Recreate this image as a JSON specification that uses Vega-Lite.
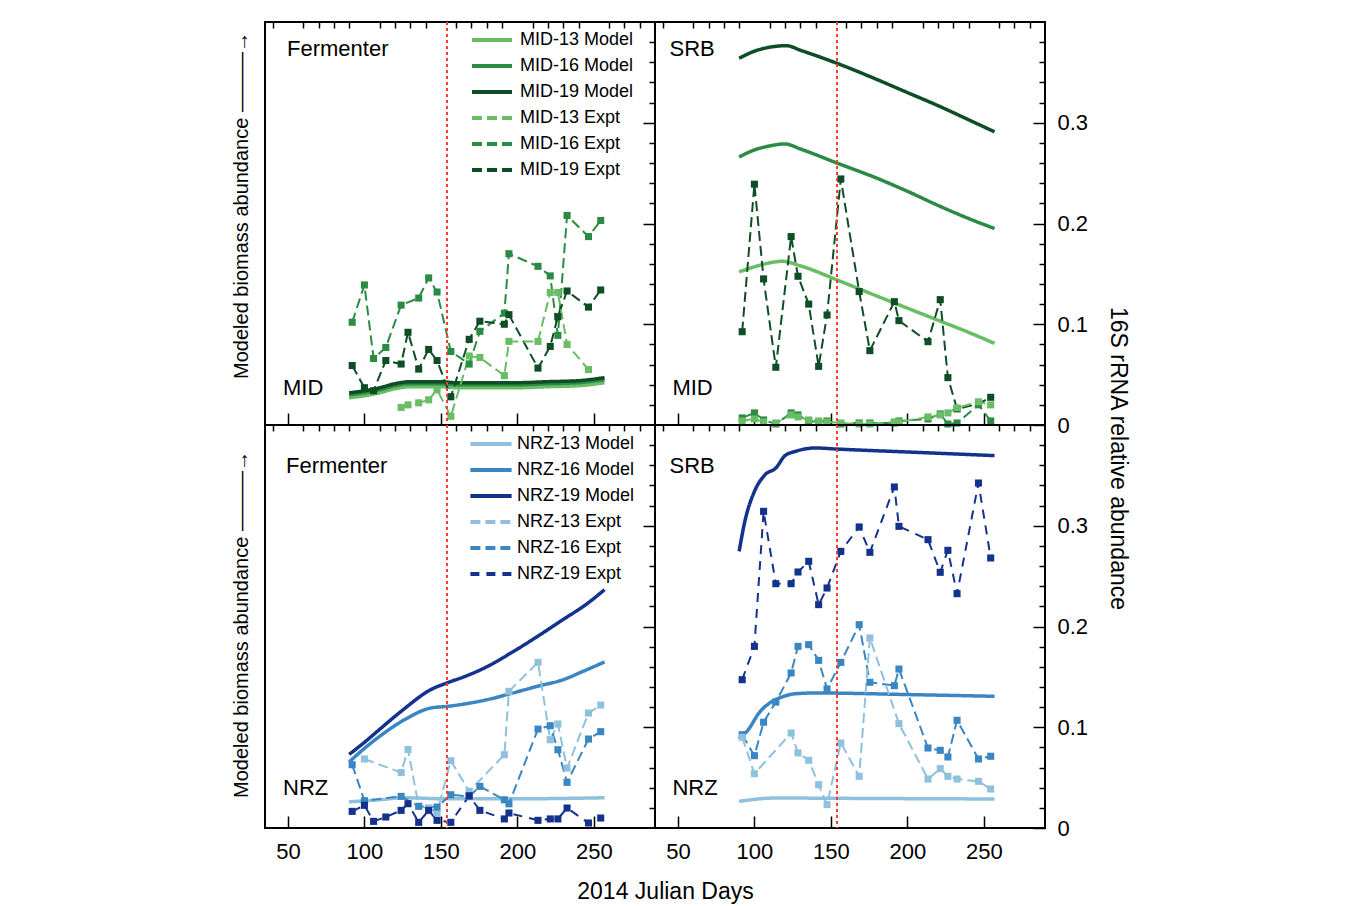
{
"$schema": "https://vega.github.io/schema/vega-lite/v6.json",
"padding": {"left": 230, "top": 20, "right": 5, "bottom": 0},
"config": {
  "font": "Liberation Sans",
  "view": {"stroke": "black", "strokeWidth": 2},
  "axis": {"domain": false, "grid": false, "tickColor": "black", "tickWidth": 1.5, "labelFont": "Liberation Sans", "labelFontSize": 22, "labelColor": "black", "titleFont": "Liberation Sans", "titleFontWeight": "normal", "titleColor": "black"},
  "legend": {"labelFont": "Liberation Sans", "labelColor": "black"}
},
"datasets": {
  "vline": [{"x": 154}],
  "ann": [
    {"p":"MF","t":"Fermenter","x":49.4,"y":0.3735},
    {"p":"MF","t":"MID","x":46.8,"y":0.037},
    {"p":"MS","t":"SRB","x":44.5,"y":0.3735},
    {"p":"MS","t":"MID","x":46.4,"y":0.037},
    {"p":"NF","t":"Fermenter","x":48.7,"y":0.3596},
    {"p":"NF","t":"NRZ","x":46.8,"y":0.040},
    {"p":"NS","t":"SRB","x":44.5,"y":0.3596},
    {"p":"NS","t":"NRZ","x":46.4,"y":0.040}
  ],
  "pts": [
    {"p":"MF","s":"MID-13 Model","x":90,"y":0.027},{"p":"MF","s":"MID-13 Model","x":100,"y":0.029},{"p":"MF","s":"MID-13 Model","x":110,"y":0.032},{"p":"MF","s":"MID-13 Model","x":120,"y":0.036},{"p":"MF","s":"MID-13 Model","x":130,"y":0.038},{"p":"MF","s":"MID-13 Model","x":140,"y":0.038},{"p":"MF","s":"MID-13 Model","x":150,"y":0.038},{"p":"MF","s":"MID-13 Model","x":160,"y":0.037},{"p":"MF","s":"MID-13 Model","x":180,"y":0.037},{"p":"MF","s":"MID-13 Model","x":200,"y":0.037},{"p":"MF","s":"MID-13 Model","x":220,"y":0.038},{"p":"MF","s":"MID-13 Model","x":240,"y":0.039},{"p":"MF","s":"MID-13 Model","x":257,"y":0.042},
    {"p":"MF","s":"MID-16 Model","x":90,"y":0.030},{"p":"MF","s":"MID-16 Model","x":100,"y":0.032},{"p":"MF","s":"MID-16 Model","x":110,"y":0.035},{"p":"MF","s":"MID-16 Model","x":120,"y":0.039},{"p":"MF","s":"MID-16 Model","x":130,"y":0.041},{"p":"MF","s":"MID-16 Model","x":140,"y":0.041},{"p":"MF","s":"MID-16 Model","x":150,"y":0.041},{"p":"MF","s":"MID-16 Model","x":160,"y":0.040},{"p":"MF","s":"MID-16 Model","x":180,"y":0.040},{"p":"MF","s":"MID-16 Model","x":200,"y":0.040},{"p":"MF","s":"MID-16 Model","x":220,"y":0.041},{"p":"MF","s":"MID-16 Model","x":240,"y":0.042},{"p":"MF","s":"MID-16 Model","x":257,"y":0.045},
    {"p":"MF","s":"MID-19 Model","x":90,"y":0.032},{"p":"MF","s":"MID-19 Model","x":100,"y":0.034},{"p":"MF","s":"MID-19 Model","x":110,"y":0.037},{"p":"MF","s":"MID-19 Model","x":120,"y":0.041},{"p":"MF","s":"MID-19 Model","x":130,"y":0.043},{"p":"MF","s":"MID-19 Model","x":140,"y":0.043},{"p":"MF","s":"MID-19 Model","x":150,"y":0.043},{"p":"MF","s":"MID-19 Model","x":160,"y":0.042},{"p":"MF","s":"MID-19 Model","x":180,"y":0.042},{"p":"MF","s":"MID-19 Model","x":200,"y":0.042},{"p":"MF","s":"MID-19 Model","x":220,"y":0.043},{"p":"MF","s":"MID-19 Model","x":240,"y":0.044},{"p":"MF","s":"MID-19 Model","x":257,"y":0.047},
    {"p":"MF","s":"MID-16 Expt","x":92,"y":0.102},{"p":"MF","s":"MID-16 Expt","x":100,"y":0.139},{"p":"MF","s":"MID-16 Expt","x":106,"y":0.066},{"p":"MF","s":"MID-16 Expt","x":114,"y":0.077},{"p":"MF","s":"MID-16 Expt","x":124,"y":0.119},{"p":"MF","s":"MID-16 Expt","x":135.5,"y":0.126},{"p":"MF","s":"MID-16 Expt","x":142,"y":0.146},{"p":"MF","s":"MID-16 Expt","x":147.5,"y":0.132},{"p":"MF","s":"MID-16 Expt","x":156.5,"y":0.073},{"p":"MF","s":"MID-16 Expt","x":168.5,"y":0.0605},{"p":"MF","s":"MID-16 Expt","x":175.5,"y":0.093},{"p":"MF","s":"MID-16 Expt","x":191.5,"y":0.111},{"p":"MF","s":"MID-16 Expt","x":194.5,"y":0.170},{"p":"MF","s":"MID-16 Expt","x":213.5,"y":0.1575},{"p":"MF","s":"MID-16 Expt","x":221.5,"y":0.148},{"p":"MF","s":"MID-16 Expt","x":226.5,"y":0.089},{"p":"MF","s":"MID-16 Expt","x":232.5,"y":0.208},{"p":"MF","s":"MID-16 Expt","x":246.5,"y":0.187},{"p":"MF","s":"MID-16 Expt","x":254.5,"y":0.203},
    {"p":"MF","s":"MID-19 Expt","x":92,"y":0.059},{"p":"MF","s":"MID-19 Expt","x":100,"y":0.037},{"p":"MF","s":"MID-19 Expt","x":106,"y":0.034},{"p":"MF","s":"MID-19 Expt","x":114,"y":0.064},{"p":"MF","s":"MID-19 Expt","x":124,"y":0.0605},{"p":"MF","s":"MID-19 Expt","x":128.5,"y":0.092},{"p":"MF","s":"MID-19 Expt","x":135.5,"y":0.0555},{"p":"MF","s":"MID-19 Expt","x":142,"y":0.075},{"p":"MF","s":"MID-19 Expt","x":147.5,"y":0.064},{"p":"MF","s":"MID-19 Expt","x":156.5,"y":0.028},{"p":"MF","s":"MID-19 Expt","x":168.5,"y":0.085},{"p":"MF","s":"MID-19 Expt","x":175.5,"y":0.103},{"p":"MF","s":"MID-19 Expt","x":191.5,"y":0.100},{"p":"MF","s":"MID-19 Expt","x":194.5,"y":0.1095},{"p":"MF","s":"MID-19 Expt","x":213.5,"y":0.0565},{"p":"MF","s":"MID-19 Expt","x":221.5,"y":0.078},{"p":"MF","s":"MID-19 Expt","x":226.5,"y":0.1075},{"p":"MF","s":"MID-19 Expt","x":232.5,"y":0.133},{"p":"MF","s":"MID-19 Expt","x":246.5,"y":0.117},{"p":"MF","s":"MID-19 Expt","x":254.5,"y":0.134},
    {"p":"MF","s":"MID-13 Expt","x":124,"y":0.0175},{"p":"MF","s":"MID-13 Expt","x":128.5,"y":0.020},{"p":"MF","s":"MID-13 Expt","x":135.5,"y":0.022},{"p":"MF","s":"MID-13 Expt","x":142,"y":0.025},{"p":"MF","s":"MID-13 Expt","x":147.5,"y":0.035},{"p":"MF","s":"MID-13 Expt","x":156.5,"y":0.0086},{"p":"MF","s":"MID-13 Expt","x":168.5,"y":0.0685},{"p":"MF","s":"MID-13 Expt","x":175.5,"y":0.067},{"p":"MF","s":"MID-13 Expt","x":191.5,"y":0.049},{"p":"MF","s":"MID-13 Expt","x":194.5,"y":0.083},{"p":"MF","s":"MID-13 Expt","x":213.5,"y":0.083},{"p":"MF","s":"MID-13 Expt","x":221.5,"y":0.1316},{"p":"MF","s":"MID-13 Expt","x":226.5,"y":0.1316},{"p":"MF","s":"MID-13 Expt","x":232.5,"y":0.080},{"p":"MF","s":"MID-13 Expt","x":246.5,"y":0.055},

    {"p":"MS","s":"MID-19 Model","x":90,"y":0.364},{"p":"MS","s":"MID-19 Model","x":100,"y":0.371},{"p":"MS","s":"MID-19 Model","x":110,"y":0.375},{"p":"MS","s":"MID-19 Model","x":121,"y":0.3765},{"p":"MS","s":"MID-19 Model","x":130,"y":0.372},{"p":"MS","s":"MID-19 Model","x":154,"y":0.359},{"p":"MS","s":"MID-19 Model","x":180,"y":0.343},{"p":"MS","s":"MID-19 Model","x":200,"y":0.330},{"p":"MS","s":"MID-19 Model","x":220,"y":0.317},{"p":"MS","s":"MID-19 Model","x":240,"y":0.303},{"p":"MS","s":"MID-19 Model","x":257,"y":0.291},
    {"p":"MS","s":"MID-16 Model","x":90,"y":0.266},{"p":"MS","s":"MID-16 Model","x":100,"y":0.273},{"p":"MS","s":"MID-16 Model","x":110,"y":0.277},{"p":"MS","s":"MID-16 Model","x":120,"y":0.279},{"p":"MS","s":"MID-16 Model","x":130,"y":0.274},{"p":"MS","s":"MID-16 Model","x":154,"y":0.260},{"p":"MS","s":"MID-16 Model","x":180,"y":0.245},{"p":"MS","s":"MID-16 Model","x":200,"y":0.232},{"p":"MS","s":"MID-16 Model","x":220,"y":0.218},{"p":"MS","s":"MID-16 Model","x":240,"y":0.205},{"p":"MS","s":"MID-16 Model","x":257,"y":0.195},
    {"p":"MS","s":"MID-13 Model","x":90,"y":0.152},{"p":"MS","s":"MID-13 Model","x":100,"y":0.157},{"p":"MS","s":"MID-13 Model","x":110,"y":0.161},{"p":"MS","s":"MID-13 Model","x":118,"y":0.1625},{"p":"MS","s":"MID-13 Model","x":130,"y":0.158},{"p":"MS","s":"MID-13 Model","x":154,"y":0.144},{"p":"MS","s":"MID-13 Model","x":180,"y":0.128},{"p":"MS","s":"MID-13 Model","x":200,"y":0.116},{"p":"MS","s":"MID-13 Model","x":220,"y":0.104},{"p":"MS","s":"MID-13 Model","x":240,"y":0.092},{"p":"MS","s":"MID-13 Model","x":257,"y":0.081},
    {"p":"MS","s":"MID-19 Expt","x":92,"y":0.0926},{"p":"MS","s":"MID-19 Expt","x":100,"y":0.239},{"p":"MS","s":"MID-19 Expt","x":106,"y":0.145},{"p":"MS","s":"MID-19 Expt","x":114,"y":0.0573},{"p":"MS","s":"MID-19 Expt","x":124,"y":0.187},{"p":"MS","s":"MID-19 Expt","x":128.5,"y":0.1476},{"p":"MS","s":"MID-19 Expt","x":135.5,"y":0.120},{"p":"MS","s":"MID-19 Expt","x":142,"y":0.0582},{"p":"MS","s":"MID-19 Expt","x":147.5,"y":0.1092},{"p":"MS","s":"MID-19 Expt","x":156.5,"y":0.2442},{"p":"MS","s":"MID-19 Expt","x":168.5,"y":0.1324},{"p":"MS","s":"MID-19 Expt","x":175.5,"y":0.0738},{"p":"MS","s":"MID-19 Expt","x":191.5,"y":0.1224},{"p":"MS","s":"MID-19 Expt","x":194.5,"y":0.1036},{"p":"MS","s":"MID-19 Expt","x":213.5,"y":0.0827},{"p":"MS","s":"MID-19 Expt","x":221.5,"y":0.1244},{"p":"MS","s":"MID-19 Expt","x":226.5,"y":0.047},{"p":"MS","s":"MID-19 Expt","x":232.5,"y":0.016},{"p":"MS","s":"MID-19 Expt","x":246.5,"y":0.021},{"p":"MS","s":"MID-19 Expt","x":254.5,"y":0.0275},
    {"p":"MS","s":"MID-16 Expt","x":92,"y":0.007},{"p":"MS","s":"MID-16 Expt","x":100,"y":0.012},{"p":"MS","s":"MID-16 Expt","x":106,"y":0.005},{"p":"MS","s":"MID-16 Expt","x":114,"y":0.001},{"p":"MS","s":"MID-16 Expt","x":124,"y":0.012},{"p":"MS","s":"MID-16 Expt","x":128.5,"y":0.010},{"p":"MS","s":"MID-16 Expt","x":135.5,"y":0.004},{"p":"MS","s":"MID-16 Expt","x":142,"y":0.003},{"p":"MS","s":"MID-16 Expt","x":147.5,"y":0.004},{"p":"MS","s":"MID-16 Expt","x":156.5,"y":0.001},{"p":"MS","s":"MID-16 Expt","x":168.5,"y":0.002},{"p":"MS","s":"MID-16 Expt","x":175.5,"y":0.002},{"p":"MS","s":"MID-16 Expt","x":191.5,"y":0.002},{"p":"MS","s":"MID-16 Expt","x":194.5,"y":0.004},{"p":"MS","s":"MID-16 Expt","x":213.5,"y":0.006},{"p":"MS","s":"MID-16 Expt","x":221.5,"y":0.011},{"p":"MS","s":"MID-16 Expt","x":226.5,"y":0.001},{"p":"MS","s":"MID-16 Expt","x":232.5,"y":0.002},{"p":"MS","s":"MID-16 Expt","x":246.5,"y":0.020},{"p":"MS","s":"MID-16 Expt","x":254.5,"y":0.004},
    {"p":"MS","s":"MID-13 Expt","x":92,"y":0.004},{"p":"MS","s":"MID-13 Expt","x":100,"y":0.006},{"p":"MS","s":"MID-13 Expt","x":106,"y":0.003},{"p":"MS","s":"MID-13 Expt","x":114,"y":0.002},{"p":"MS","s":"MID-13 Expt","x":124,"y":0.010},{"p":"MS","s":"MID-13 Expt","x":128.5,"y":0.008},{"p":"MS","s":"MID-13 Expt","x":135.5,"y":0.005},{"p":"MS","s":"MID-13 Expt","x":142,"y":0.004},{"p":"MS","s":"MID-13 Expt","x":147.5,"y":0.003},{"p":"MS","s":"MID-13 Expt","x":156.5,"y":0.002},{"p":"MS","s":"MID-13 Expt","x":168.5,"y":0.001},{"p":"MS","s":"MID-13 Expt","x":175.5,"y":0.001},{"p":"MS","s":"MID-13 Expt","x":191.5,"y":0.003},{"p":"MS","s":"MID-13 Expt","x":194.5,"y":0.003},{"p":"MS","s":"MID-13 Expt","x":213.5,"y":0.008},{"p":"MS","s":"MID-13 Expt","x":221.5,"y":0.010},{"p":"MS","s":"MID-13 Expt","x":226.5,"y":0.012},{"p":"MS","s":"MID-13 Expt","x":232.5,"y":0.017},{"p":"MS","s":"MID-13 Expt","x":246.5,"y":0.023},{"p":"MS","s":"MID-13 Expt","x":254.5,"y":0.020},

    {"p":"NF","s":"NRZ-19 Model","x":90,"y":0.073},{"p":"NF","s":"NRZ-19 Model","x":100,"y":0.085},{"p":"NF","s":"NRZ-19 Model","x":110,"y":0.098},{"p":"NF","s":"NRZ-19 Model","x":125,"y":0.117},{"p":"NF","s":"NRZ-19 Model","x":143,"y":0.137},{"p":"NF","s":"NRZ-19 Model","x":154,"y":0.144},{"p":"NF","s":"NRZ-19 Model","x":165,"y":0.150},{"p":"NF","s":"NRZ-19 Model","x":180,"y":0.160},{"p":"NF","s":"NRZ-19 Model","x":195,"y":0.173},{"p":"NF","s":"NRZ-19 Model","x":213,"y":0.190},{"p":"NF","s":"NRZ-19 Model","x":230,"y":0.207},{"p":"NF","s":"NRZ-19 Model","x":245,"y":0.222},{"p":"NF","s":"NRZ-19 Model","x":257,"y":0.2365},
    {"p":"NF","s":"NRZ-16 Model","x":90,"y":0.0655},{"p":"NF","s":"NRZ-16 Model","x":100,"y":0.079},{"p":"NF","s":"NRZ-16 Model","x":110,"y":0.091},{"p":"NF","s":"NRZ-16 Model","x":128,"y":0.109},{"p":"NF","s":"NRZ-16 Model","x":143,"y":0.119},{"p":"NF","s":"NRZ-16 Model","x":154,"y":0.1207},{"p":"NF","s":"NRZ-16 Model","x":165,"y":0.123},{"p":"NF","s":"NRZ-16 Model","x":180,"y":0.1273},{"p":"NF","s":"NRZ-16 Model","x":193,"y":0.1323},{"p":"NF","s":"NRZ-16 Model","x":213,"y":0.1406},{"p":"NF","s":"NRZ-16 Model","x":230,"y":0.1472},{"p":"NF","s":"NRZ-16 Model","x":243,"y":0.1555},{"p":"NF","s":"NRZ-16 Model","x":257,"y":0.1648},
    {"p":"NF","s":"NRZ-13 Model","x":90,"y":0.026},{"p":"NF","s":"NRZ-13 Model","x":110,"y":0.028},{"p":"NF","s":"NRZ-13 Model","x":125,"y":0.030},{"p":"NF","s":"NRZ-13 Model","x":154,"y":0.029},{"p":"NF","s":"NRZ-13 Model","x":200,"y":0.029},{"p":"NF","s":"NRZ-13 Model","x":257,"y":0.030},
    {"p":"NF","s":"NRZ-13 Expt","x":100,"y":0.0685},{"p":"NF","s":"NRZ-13 Expt","x":124,"y":0.055},{"p":"NF","s":"NRZ-13 Expt","x":128.5,"y":0.078},{"p":"NF","s":"NRZ-13 Expt","x":135.5,"y":0.0215},{"p":"NF","s":"NRZ-13 Expt","x":142,"y":0.020},{"p":"NF","s":"NRZ-13 Expt","x":147.5,"y":0.015},{"p":"NF","s":"NRZ-13 Expt","x":156.5,"y":0.0668},{"p":"NF","s":"NRZ-13 Expt","x":168.5,"y":0.0364},{"p":"NF","s":"NRZ-13 Expt","x":191.5,"y":0.0727},{"p":"NF","s":"NRZ-13 Expt","x":194.5,"y":0.1356},{"p":"NF","s":"NRZ-13 Expt","x":213.5,"y":0.1644},{"p":"NF","s":"NRZ-13 Expt","x":221.5,"y":0.0876},{"p":"NF","s":"NRZ-13 Expt","x":226.5,"y":0.1032},{"p":"NF","s":"NRZ-13 Expt","x":232.5,"y":0.0595},{"p":"NF","s":"NRZ-13 Expt","x":246.5,"y":0.1141},{"p":"NF","s":"NRZ-13 Expt","x":254.5,"y":0.122},
    {"p":"NF","s":"NRZ-16 Expt","x":92,"y":0.0628},{"p":"NF","s":"NRZ-16 Expt","x":100,"y":0.0271},{"p":"NF","s":"NRZ-16 Expt","x":124,"y":0.0314},{"p":"NF","s":"NRZ-16 Expt","x":135.5,"y":0.0215},{"p":"NF","s":"NRZ-16 Expt","x":147.5,"y":0.0208},{"p":"NF","s":"NRZ-16 Expt","x":156.5,"y":0.033},{"p":"NF","s":"NRZ-16 Expt","x":168.5,"y":0.0314},{"p":"NF","s":"NRZ-16 Expt","x":175.5,"y":0.0413},{"p":"NF","s":"NRZ-16 Expt","x":191.5,"y":0.028},{"p":"NF","s":"NRZ-16 Expt","x":194.5,"y":0.024},{"p":"NF","s":"NRZ-16 Expt","x":213.5,"y":0.0982},{"p":"NF","s":"NRZ-16 Expt","x":221.5,"y":0.1015},{"p":"NF","s":"NRZ-16 Expt","x":226.5,"y":0.0777},{"p":"NF","s":"NRZ-16 Expt","x":232.5,"y":0.0453},{"p":"NF","s":"NRZ-16 Expt","x":246.5,"y":0.0883},{"p":"NF","s":"NRZ-16 Expt","x":254.5,"y":0.0956},
    {"p":"NF","s":"NRZ-19 Expt","x":92,"y":0.0165},{"p":"NF","s":"NRZ-19 Expt","x":100,"y":0.0225},{"p":"NF","s":"NRZ-19 Expt","x":106,"y":0.0066},{"p":"NF","s":"NRZ-19 Expt","x":114,"y":0.0109},{"p":"NF","s":"NRZ-19 Expt","x":124,"y":0.0175},{"p":"NF","s":"NRZ-19 Expt","x":128.5,"y":0.0241},{"p":"NF","s":"NRZ-19 Expt","x":135.5,"y":0.0056},{"p":"NF","s":"NRZ-19 Expt","x":142,"y":0.0175},{"p":"NF","s":"NRZ-19 Expt","x":147.5,"y":0.0076},{"p":"NF","s":"NRZ-19 Expt","x":156.5,"y":0.0056},{"p":"NF","s":"NRZ-19 Expt","x":168.5,"y":0.032},{"p":"NF","s":"NRZ-19 Expt","x":175.5,"y":0.0175},{"p":"NF","s":"NRZ-19 Expt","x":191.5,"y":0.009},{"p":"NF","s":"NRZ-19 Expt","x":194.5,"y":0.0149},{"p":"NF","s":"NRZ-19 Expt","x":213.5,"y":0.0076},{"p":"NF","s":"NRZ-19 Expt","x":221.5,"y":0.009},{"p":"NF","s":"NRZ-19 Expt","x":226.5,"y":0.009},{"p":"NF","s":"NRZ-19 Expt","x":232.5,"y":0.0198},{"p":"NF","s":"NRZ-19 Expt","x":246.5,"y":0.005},{"p":"NF","s":"NRZ-19 Expt","x":254.5,"y":0.0099},

    {"p":"NS","s":"NRZ-19 Model","x":90,"y":0.2746},{"p":"NS","s":"NRZ-19 Model","x":94,"y":0.306},{"p":"NS","s":"NRZ-19 Model","x":100,"y":0.334},{"p":"NS","s":"NRZ-19 Model","x":107,"y":0.3507},{"p":"NS","s":"NRZ-19 Model","x":114,"y":0.3573},{"p":"NS","s":"NRZ-19 Model","x":120,"y":0.3696},{"p":"NS","s":"NRZ-19 Model","x":127,"y":0.3739},{"p":"NS","s":"NRZ-19 Model","x":140,"y":0.3772},{"p":"NS","s":"NRZ-19 Model","x":153,"y":0.3762},{"p":"NS","s":"NRZ-19 Model","x":205,"y":0.3729},{"p":"NS","s":"NRZ-19 Model","x":257,"y":0.3696},
    {"p":"NS","s":"NRZ-16 Model","x":90,"y":0.0883},{"p":"NS","s":"NRZ-16 Model","x":96,"y":0.0976},{"p":"NS","s":"NRZ-16 Model","x":103,"y":0.1142},{"p":"NS","s":"NRZ-16 Model","x":110,"y":0.1241},{"p":"NS","s":"NRZ-16 Model","x":118,"y":0.130},{"p":"NS","s":"NRZ-16 Model","x":127,"y":0.1333},{"p":"NS","s":"NRZ-16 Model","x":140,"y":0.134},{"p":"NS","s":"NRZ-16 Model","x":205,"y":0.1323},{"p":"NS","s":"NRZ-16 Model","x":257,"y":0.1307},
    {"p":"NS","s":"NRZ-13 Model","x":90,"y":0.0265},{"p":"NS","s":"NRZ-13 Model","x":114,"y":0.0298},{"p":"NS","s":"NRZ-13 Model","x":150,"y":0.0295},{"p":"NS","s":"NRZ-13 Model","x":257,"y":0.0288},
    {"p":"NS","s":"NRZ-19 Expt","x":92,"y":0.1472},{"p":"NS","s":"NRZ-19 Expt","x":100,"y":0.1803},{"p":"NS","s":"NRZ-19 Expt","x":106,"y":0.3143},{"p":"NS","s":"NRZ-19 Expt","x":114,"y":0.2425},{"p":"NS","s":"NRZ-19 Expt","x":124,"y":0.2425},{"p":"NS","s":"NRZ-19 Expt","x":128.5,"y":0.2541},{"p":"NS","s":"NRZ-19 Expt","x":135.5,"y":0.2647},{"p":"NS","s":"NRZ-19 Expt","x":142,"y":0.2217},{"p":"NS","s":"NRZ-19 Expt","x":147.5,"y":0.2382},{"p":"NS","s":"NRZ-19 Expt","x":156.5,"y":0.2746},{"p":"NS","s":"NRZ-19 Expt","x":168.5,"y":0.2988},{"p":"NS","s":"NRZ-19 Expt","x":175.5,"y":0.2736},{"p":"NS","s":"NRZ-19 Expt","x":191.5,"y":0.3385},{"p":"NS","s":"NRZ-19 Expt","x":194.5,"y":0.2994},{"p":"NS","s":"NRZ-19 Expt","x":213.5,"y":0.2862},{"p":"NS","s":"NRZ-19 Expt","x":221.5,"y":0.2538},{"p":"NS","s":"NRZ-19 Expt","x":226.5,"y":0.2756},{"p":"NS","s":"NRZ-19 Expt","x":232.5,"y":0.2326},{"p":"NS","s":"NRZ-19 Expt","x":246.5,"y":0.3424},{"p":"NS","s":"NRZ-19 Expt","x":254.5,"y":0.268},
    {"p":"NS","s":"NRZ-16 Expt","x":92,"y":0.0926},{"p":"NS","s":"NRZ-16 Expt","x":100,"y":0.0718},{"p":"NS","s":"NRZ-16 Expt","x":106,"y":0.105},{"p":"NS","s":"NRZ-16 Expt","x":114,"y":0.125},{"p":"NS","s":"NRZ-16 Expt","x":124,"y":0.1539},{"p":"NS","s":"NRZ-16 Expt","x":128.5,"y":0.1803},{"p":"NS","s":"NRZ-16 Expt","x":135.5,"y":0.182},{"p":"NS","s":"NRZ-16 Expt","x":142,"y":0.1664},{"p":"NS","s":"NRZ-16 Expt","x":147.5,"y":0.138},{"p":"NS","s":"NRZ-16 Expt","x":156.5,"y":0.1644},{"p":"NS","s":"NRZ-16 Expt","x":168.5,"y":0.2018},{"p":"NS","s":"NRZ-16 Expt","x":175.5,"y":0.1446},{"p":"NS","s":"NRZ-16 Expt","x":191.5,"y":0.1413},{"p":"NS","s":"NRZ-16 Expt","x":194.5,"y":0.1578},{"p":"NS","s":"NRZ-16 Expt","x":213.5,"y":0.0794},{"p":"NS","s":"NRZ-16 Expt","x":221.5,"y":0.0771},{"p":"NS","s":"NRZ-16 Expt","x":226.5,"y":0.0705},{"p":"NS","s":"NRZ-16 Expt","x":232.5,"y":0.1069},{"p":"NS","s":"NRZ-16 Expt","x":246.5,"y":0.0685},{"p":"NS","s":"NRZ-16 Expt","x":254.5,"y":0.0712},
    {"p":"NS","s":"NRZ-13 Expt","x":92,"y":0.090},{"p":"NS","s":"NRZ-13 Expt","x":100,"y":0.0539},{"p":"NS","s":"NRZ-13 Expt","x":124,"y":0.0943},{"p":"NS","s":"NRZ-13 Expt","x":128.5,"y":0.0745},{"p":"NS","s":"NRZ-13 Expt","x":135.5,"y":0.0672},{"p":"NS","s":"NRZ-13 Expt","x":142,"y":0.043},{"p":"NS","s":"NRZ-13 Expt","x":147.5,"y":0.0232},{"p":"NS","s":"NRZ-13 Expt","x":156.5,"y":0.0844},{"p":"NS","s":"NRZ-13 Expt","x":168.5,"y":0.0513},{"p":"NS","s":"NRZ-13 Expt","x":175.5,"y":0.1886},{"p":"NS","s":"NRZ-13 Expt","x":194.5,"y":0.1036},{"p":"NS","s":"NRZ-13 Expt","x":213.5,"y":0.0486},{"p":"NS","s":"NRZ-13 Expt","x":221.5,"y":0.0589},{"p":"NS","s":"NRZ-13 Expt","x":226.5,"y":0.0513},{"p":"NS","s":"NRZ-13 Expt","x":232.5,"y":0.0486},{"p":"NS","s":"NRZ-13 Expt","x":246.5,"y":0.0463},{"p":"NS","s":"NRZ-13 Expt","x":254.5,"y":0.0387}
  ]
},
"bounds": "flush",
"spacing": 0,
"columns": 2,
"resolve": {"legend": {"color": "independent", "strokeDash": "independent"}},
"concat": [
  {"width": 390, "height": 403,
   "resolve": {"axis": {"x": "independent", "y": "independent"}},
   "layer": [
    {"data": {"name": "pts"},
     "transform": [{"filter": "datum.p == 'MF' && indexof(datum.s, 'Model') >= 0"}],
     "mark": {"type": "line", "strokeWidth": 3.5, "interpolate": "monotone"},
     "encoding": {
       "x": {"field": "x", "type": "quantitative", "scale": {"domain": [35, 290], "nice": false, "zero": false}, "axis": {"values": [50,100,150,200,250], "tickSize": -12, "labels": false, "title": null}},
       "y": {"field": "y", "type": "quantitative", "scale": {"domain": [0, 0.4], "nice": false, "zero": false}, "axis": {"orient": "left", "ticks": false, "labels": false, "title": "Modeled biomass abundance ———→", "titleFontSize": 20, "titleX": -18, "titleY": 183, "titleAngle": -90, "titleBaseline": "alphabetic", "titleAlign": "center"}},
       "color": {"field": "s", "type": "nominal", "scale": {"domain": ["MID-13 Model","MID-16 Model","MID-19 Model","MID-13 Expt","MID-16 Expt","MID-19 Expt","NRZ-13 Model","NRZ-16 Model","NRZ-19 Model","NRZ-13 Expt","NRZ-16 Expt","NRZ-19 Expt"], "range": ["#68bd65","#2b8a43","#0e4d25","#68bd65","#2b8a43","#0e4d25","#8fc0dd","#3a86c3","#12328c","#8fc0dd","#3a86c3","#12328c"]},
         "legend": {"orient": "none", "legendX": 205, "legendY": 5, "title": null, "symbolType": "stroke", "symbolSize": 1600, "symbolStrokeWidth": 4, "labelFontSize": 18, "labelOffset": 6, "clipHeight": 26, "rowPadding": 0, "padding": 0, "values": ["MID-13 Model","MID-16 Model","MID-19 Model","MID-13 Expt","MID-16 Expt","MID-19 Expt"]}},
       "strokeDash": {"field": "s", "type": "nominal", "scale": {"domain": ["MID-13 Model","MID-16 Model","MID-19 Model","MID-13 Expt","MID-16 Expt","MID-19 Expt","NRZ-13 Model","NRZ-16 Model","NRZ-19 Model","NRZ-13 Expt","NRZ-16 Expt","NRZ-19 Expt"], "range": [[1,0],[1,0],[1,0],[10,5],[10,5],[10,5],[1,0],[1,0],[1,0],[10,5],[10,5],[9,7]]},
         "legend": {"orient": "none", "legendX": 205, "legendY": 5, "title": null, "symbolType": "stroke", "symbolSize": 1600, "symbolStrokeWidth": 4, "labelFontSize": 18, "labelOffset": 6, "clipHeight": 26, "rowPadding": 0, "padding": 0, "values": ["MID-13 Model","MID-16 Model","MID-19 Model","MID-13 Expt","MID-16 Expt","MID-19 Expt"]}}
     }},
    {"data": {"name": "pts"},
     "transform": [{"filter": "datum.p == 'MF' && indexof(datum.s, 'Expt') >= 0"}],
     "mark": {"type": "line", "strokeWidth": 2, "point": {"shape": "square", "size": 50, "filled": true, "opacity": 1}},
     "encoding": {
       "x": {"field": "x", "type": "quantitative", "axis": {"values": [40,60,70,80,90,110,120,130,140,160,170,180,190,210,220,230,240,260,270,280], "tickSize": -6, "labels": false, "title": null}},
       "y": {"field": "y", "type": "quantitative", "axis": {"orient": "right", "values": [0.1,0.2,0.3], "tickSize": -12, "labels": false, "title": null}},
       "color": {"field": "s", "type": "nominal", "legend": null},
       "strokeDash": {"field": "s", "type": "nominal", "legend": null}
     }},
    {"data": {"name": "vline"},
     "mark": {"type": "rule", "color": "#ff3b2f", "strokeDash": [3,3], "strokeWidth": 2},
     "encoding": {"x": {"field": "x", "type": "quantitative", "axis": null}}},
    {"data": {"name": "ann"},
     "transform": [{"filter": "datum.p == 'MF'"}],
     "mark": {"type": "text", "align": "left", "baseline": "middle", "fontSize": 22, "color": "black"},
     "encoding": {
       "x": {"field": "x", "type": "quantitative", "axis": null},
       "y": {"field": "y", "type": "quantitative", "axis": {"orient": "right", "values": [0.02,0.04,0.06,0.08,0.12,0.14,0.16,0.18,0.22,0.24,0.26,0.28,0.32,0.34,0.36,0.38], "tickSize": -6, "labels": false, "title": null}},
       "text": {"field": "t"}
     }}
   ]},
  {"width": 390, "height": 403,
   "resolve": {"axis": {"x": "independent", "y": "independent"}},
   "layer": [
    {"data": {"name": "pts"},
     "transform": [{"filter": "datum.p == 'MS' && indexof(datum.s, 'Model') >= 0"}],
     "mark": {"type": "line", "strokeWidth": 3.5, "interpolate": "monotone"},
     "encoding": {
       "x": {"field": "x", "type": "quantitative", "scale": {"domain": [35, 290], "nice": false, "zero": false}, "axis": {"values": [50,100,150,200,250], "tickSize": -12, "labels": false, "title": null}},
       "y": {"field": "y", "type": "quantitative", "scale": {"domain": [0, 0.4], "nice": false, "zero": false}, "axis": null},
       "color": {"field": "s", "type": "nominal", "scale": {"domain": ["MID-13 Model","MID-16 Model","MID-19 Model","MID-13 Expt","MID-16 Expt","MID-19 Expt","NRZ-13 Model","NRZ-16 Model","NRZ-19 Model","NRZ-13 Expt","NRZ-16 Expt","NRZ-19 Expt"], "range": ["#68bd65","#2b8a43","#0e4d25","#68bd65","#2b8a43","#0e4d25","#8fc0dd","#3a86c3","#12328c","#8fc0dd","#3a86c3","#12328c"]}, "legend": null},
       "strokeDash": {"field": "s", "type": "nominal", "scale": {"domain": ["MID-13 Model","MID-16 Model","MID-19 Model","MID-13 Expt","MID-16 Expt","MID-19 Expt","NRZ-13 Model","NRZ-16 Model","NRZ-19 Model","NRZ-13 Expt","NRZ-16 Expt","NRZ-19 Expt"], "range": [[1,0],[1,0],[1,0],[10,5],[10,5],[10,5],[1,0],[1,0],[1,0],[10,5],[10,5],[9,7]]}, "legend": null}
     }},
    {"data": {"name": "pts"},
     "transform": [{"filter": "datum.p == 'MS' && indexof(datum.s, 'Expt') >= 0"}],
     "mark": {"type": "line", "strokeWidth": 2, "point": {"shape": "square", "size": 50, "filled": true, "opacity": 1}},
     "encoding": {
       "x": {"field": "x", "type": "quantitative", "axis": {"values": [40,60,70,80,90,110,120,130,140,160,170,180,190,210,220,230,240,260,270,280], "tickSize": -6, "labels": false, "title": null}},
       "y": {"field": "y", "type": "quantitative", "axis": {"orient": "right", "values": [0,0.1,0.2,0.3], "tickSize": -12, "labels": true, "labelPadding": 24, "labelExpr": "datum.value == 0 ? '0' : format(datum.value, '.1f')", "title": "16S rRNA relative abundance", "titleFontSize": 23, "titleAngle": 90, "titleX": 65, "titleY": 436, "titleBaseline": "alphabetic", "titleAlign": "center"}},
       "color": {"field": "s", "type": "nominal", "legend": null},
       "strokeDash": {"field": "s", "type": "nominal", "legend": null}
     }},
    {"data": {"name": "vline"},
     "mark": {"type": "rule", "color": "#ff3b2f", "strokeDash": [3,3], "strokeWidth": 2},
     "encoding": {"x": {"field": "x", "type": "quantitative", "axis": null}}},
    {"data": {"name": "ann"},
     "transform": [{"filter": "datum.p == 'MS'"}],
     "mark": {"type": "text", "align": "left", "baseline": "middle", "fontSize": 22, "color": "black"},
     "encoding": {
       "x": {"field": "x", "type": "quantitative", "axis": null},
       "y": {"field": "y", "type": "quantitative", "axis": {"orient": "right", "values": [0.02,0.04,0.06,0.08,0.12,0.14,0.16,0.18,0.22,0.24,0.26,0.28,0.32,0.34,0.36,0.38], "tickSize": -6, "labels": false, "title": null}},
       "text": {"field": "t"}
     }}
   ]},
  {"width": 390, "height": 403,
   "resolve": {"axis": {"x": "independent", "y": "independent"}},
   "layer": [
    {"data": {"name": "pts"},
     "transform": [{"filter": "datum.p == 'NF' && indexof(datum.s, 'Model') >= 0"}],
     "mark": {"type": "line", "strokeWidth": 3.5, "interpolate": "monotone"},
     "encoding": {
       "x": {"field": "x", "type": "quantitative", "scale": {"domain": [35, 290], "nice": false, "zero": false}, "axis": {"values": [50,100,150,200,250], "tickSize": -12, "labels": true, "labelPadding": 25, "labelFlush": false, "title": "2014 Julian Days", "titleFontSize": 23, "titleX": 400, "titleY": 70, "titleBaseline": "alphabetic", "titleAlign": "center"}},
       "y": {"field": "y", "type": "quantitative", "scale": {"domain": [0, 0.4], "nice": false, "zero": false}, "axis": {"orient": "left", "ticks": false, "labels": false, "title": "Modeled biomass abundance ———→", "titleFontSize": 20, "titleX": -18, "titleY": 199, "titleAngle": -90, "titleBaseline": "alphabetic", "titleAlign": "center"}},
       "color": {"field": "s", "type": "nominal", "scale": {"domain": ["MID-13 Model","MID-16 Model","MID-19 Model","MID-13 Expt","MID-16 Expt","MID-19 Expt","NRZ-13 Model","NRZ-16 Model","NRZ-19 Model","NRZ-13 Expt","NRZ-16 Expt","NRZ-19 Expt"], "range": ["#68bd65","#2b8a43","#0e4d25","#68bd65","#2b8a43","#0e4d25","#8fc0dd","#3a86c3","#12328c","#8fc0dd","#3a86c3","#12328c"]},
         "legend": {"orient": "none", "legendX": 203, "legendY": 6, "title": null, "symbolType": "stroke", "symbolSize": 1700, "symbolStrokeWidth": 4, "labelFontSize": 18, "labelOffset": 3, "clipHeight": 26, "rowPadding": 0, "padding": 0, "values": ["NRZ-13 Model","NRZ-16 Model","NRZ-19 Model","NRZ-13 Expt","NRZ-16 Expt","NRZ-19 Expt"]}},
       "strokeDash": {"field": "s", "type": "nominal", "scale": {"domain": ["MID-13 Model","MID-16 Model","MID-19 Model","MID-13 Expt","MID-16 Expt","MID-19 Expt","NRZ-13 Model","NRZ-16 Model","NRZ-19 Model","NRZ-13 Expt","NRZ-16 Expt","NRZ-19 Expt"], "range": [[1,0],[1,0],[1,0],[10,5],[10,5],[10,5],[1,0],[1,0],[1,0],[10,5],[10,5],[9,7]]},
         "legend": {"orient": "none", "legendX": 203, "legendY": 6, "title": null, "symbolType": "stroke", "symbolSize": 1700, "symbolStrokeWidth": 4, "labelFontSize": 18, "labelOffset": 3, "clipHeight": 26, "rowPadding": 0, "padding": 0, "values": ["NRZ-13 Model","NRZ-16 Model","NRZ-19 Model","NRZ-13 Expt","NRZ-16 Expt","NRZ-19 Expt"]}}
     }},
    {"data": {"name": "pts"},
     "transform": [{"filter": "datum.p == 'NF' && indexof(datum.s, 'Expt') >= 0"}],
     "mark": {"type": "line", "strokeWidth": 2, "point": {"shape": "square", "size": 50, "filled": true, "opacity": 1}},
     "encoding": {
       "x": {"field": "x", "type": "quantitative", "axis": {"values": [40,60,70,80,90,110,120,130,140,160,170,180,190,210,220,230,240,260,270,280], "tickSize": -6, "labels": false, "title": null}},
       "y": {"field": "y", "type": "quantitative", "axis": {"orient": "right", "values": [0.1,0.2,0.3], "tickSize": -12, "labels": false, "title": null}},
       "color": {"field": "s", "type": "nominal", "legend": null},
       "strokeDash": {"field": "s", "type": "nominal", "legend": null}
     }},
    {"data": {"name": "vline"},
     "mark": {"type": "rule", "color": "#ff3b2f", "strokeDash": [3,3], "strokeWidth": 2},
     "encoding": {"x": {"field": "x", "type": "quantitative", "axis": null}}},
    {"data": {"name": "ann"},
     "transform": [{"filter": "datum.p == 'NF'"}],
     "mark": {"type": "text", "align": "left", "baseline": "middle", "fontSize": 22, "color": "black"},
     "encoding": {
       "x": {"field": "x", "type": "quantitative", "axis": null},
       "y": {"field": "y", "type": "quantitative", "axis": {"orient": "right", "values": [0.02,0.04,0.06,0.08,0.12,0.14,0.16,0.18,0.22,0.24,0.26,0.28,0.32,0.34,0.36,0.38], "tickSize": -6, "labels": false, "title": null}},
       "text": {"field": "t"}
     }}
   ]},
  {"width": 390, "height": 403,
   "resolve": {"axis": {"x": "independent", "y": "independent"}},
   "layer": [
    {"data": {"name": "pts"},
     "transform": [{"filter": "datum.p == 'NS' && indexof(datum.s, 'Model') >= 0"}],
     "mark": {"type": "line", "strokeWidth": 3.5, "interpolate": "monotone"},
     "encoding": {
       "x": {"field": "x", "type": "quantitative", "scale": {"domain": [35, 290], "nice": false, "zero": false}, "axis": {"values": [50,100,150,200,250], "tickSize": -12, "labels": true, "labelPadding": 25, "labelFlush": false, "title": null}},
       "y": {"field": "y", "type": "quantitative", "scale": {"domain": [0, 0.4], "nice": false, "zero": false}, "axis": null},
       "color": {"field": "s", "type": "nominal", "scale": {"domain": ["MID-13 Model","MID-16 Model","MID-19 Model","MID-13 Expt","MID-16 Expt","MID-19 Expt","NRZ-13 Model","NRZ-16 Model","NRZ-19 Model","NRZ-13 Expt","NRZ-16 Expt","NRZ-19 Expt"], "range": ["#68bd65","#2b8a43","#0e4d25","#68bd65","#2b8a43","#0e4d25","#8fc0dd","#3a86c3","#12328c","#8fc0dd","#3a86c3","#12328c"]}, "legend": null},
       "strokeDash": {"field": "s", "type": "nominal", "scale": {"domain": ["MID-13 Model","MID-16 Model","MID-19 Model","MID-13 Expt","MID-16 Expt","MID-19 Expt","NRZ-13 Model","NRZ-16 Model","NRZ-19 Model","NRZ-13 Expt","NRZ-16 Expt","NRZ-19 Expt"], "range": [[1,0],[1,0],[1,0],[10,5],[10,5],[10,5],[1,0],[1,0],[1,0],[10,5],[10,5],[9,7]]}, "legend": null}
     }},
    {"data": {"name": "pts"},
     "transform": [{"filter": "datum.p == 'NS' && indexof(datum.s, 'Expt') >= 0"}],
     "mark": {"type": "line", "strokeWidth": 2, "point": {"shape": "square", "size": 50, "filled": true, "opacity": 1}},
     "encoding": {
       "x": {"field": "x", "type": "quantitative", "axis": {"values": [40,60,70,80,90,110,120,130,140,160,170,180,190,210,220,230,240,260,270,280], "tickSize": -6, "labels": false, "title": null}},
       "y": {"field": "y", "type": "quantitative", "axis": {"orient": "right", "values": [0,0.1,0.2,0.3], "tickSize": -12, "labels": true, "labelPadding": 24, "labelExpr": "datum.value == 0 ? '0' : format(datum.value, '.1f')", "title": null}},
       "color": {"field": "s", "type": "nominal", "legend": null},
       "strokeDash": {"field": "s", "type": "nominal", "legend": null}
     }},
    {"data": {"name": "vline"},
     "mark": {"type": "rule", "color": "#ff3b2f", "strokeDash": [3,3], "strokeWidth": 2},
     "encoding": {"x": {"field": "x", "type": "quantitative", "axis": null}}},
    {"data": {"name": "ann"},
     "transform": [{"filter": "datum.p == 'NS'"}],
     "mark": {"type": "text", "align": "left", "baseline": "middle", "fontSize": 22, "color": "black"},
     "encoding": {
       "x": {"field": "x", "type": "quantitative", "axis": null},
       "y": {"field": "y", "type": "quantitative", "axis": {"orient": "right", "values": [0.02,0.04,0.06,0.08,0.12,0.14,0.16,0.18,0.22,0.24,0.26,0.28,0.32,0.34,0.36,0.38], "tickSize": -6, "labels": false, "title": null}},
       "text": {"field": "t"}
     }}
   ]}
]
}
